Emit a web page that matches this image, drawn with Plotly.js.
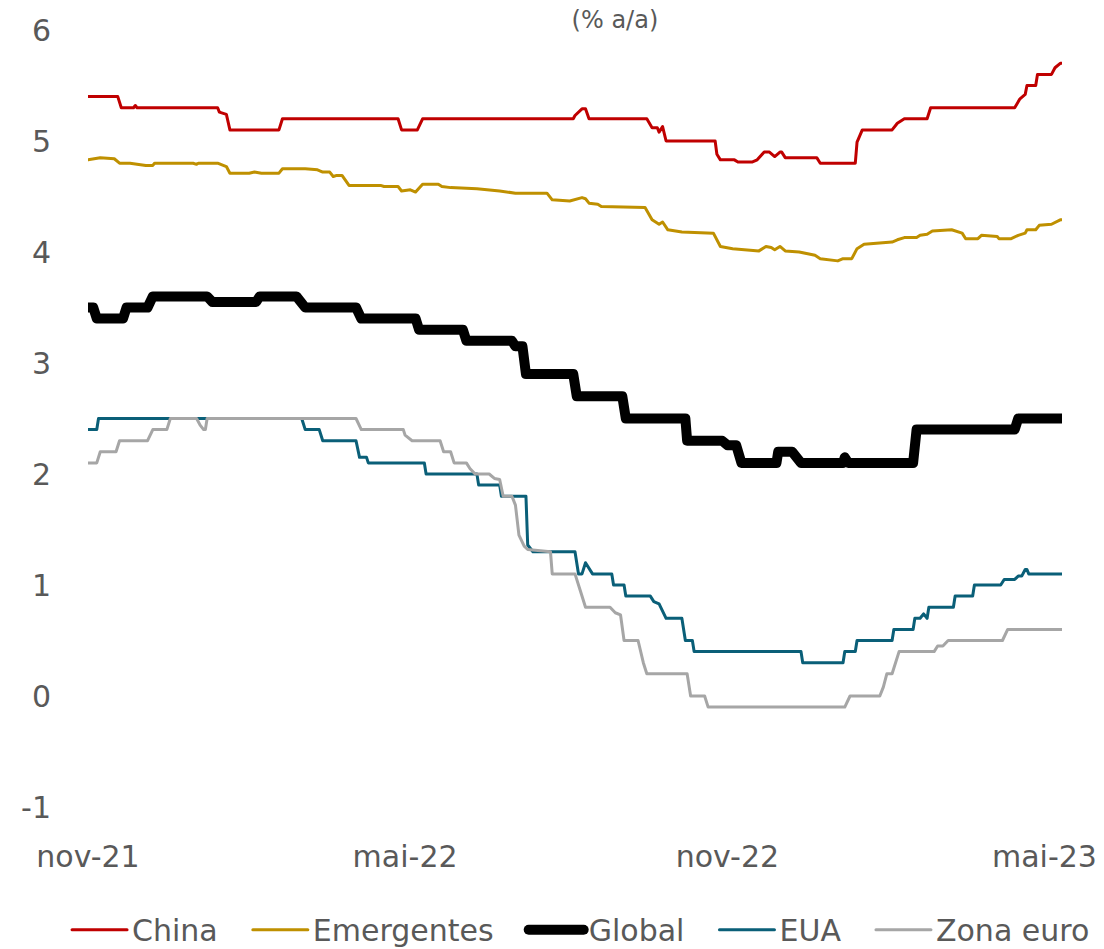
<!DOCTYPE html>
<html>
<head>
<meta charset="utf-8">
<script src="https://cdn.plot.ly/plotly-3.0.1.min.js"></script>
<style>
html,body{margin:0;padding:0;background:#fff;}
#chart{width:1104px;height:949px;}
#chart path.js-line{stroke-linejoin:round !important;stroke-linecap:round !important;}
</style>
</head>
<body>
<div id="chart"></div>
<script>
// Tick labels
const tickDates = ['2021-11-01', '2022-05-01', '2022-11-01', '2023-05-01'];
const tickLabels = ['nov-21', 'mai-22', 'nov-22', 'mai-23'];
const yTickVals = [-1, 0, 1, 2, 3, 4, 5, 6];
const yTickLabels = ['-1', '0', '1', '2', '3', '4', '5', '6'];

// China
const chinaDates = ['2021-11-01','2021-11-18','2021-11-20','2021-11-27','2021-11-28','2021-11-29','2022-01-14','2022-01-15','2022-01-19','2022-01-21',
  '2022-02-18','2022-02-20','2022-04-27','2022-04-29','2022-05-08','2022-05-11','2022-08-05','2022-08-06','2022-08-10','2022-08-12',
  '2022-08-14','2022-09-16','2022-09-19','2022-09-22','2022-09-23','2022-09-25','2022-09-27','2022-10-25','2022-10-26','2022-10-28',
  '2022-11-05','2022-11-07','2022-11-15','2022-11-18','2022-11-22','2022-11-25','2022-11-28','2022-12-01','2022-12-02','2022-12-04',
  '2022-12-22','2022-12-24','2023-01-13','2023-01-14','2023-01-17','2023-02-03','2023-02-06','2023-02-10','2023-02-23','2023-02-25',
  '2023-04-14','2023-04-17','2023-04-20','2023-04-21','2023-04-26','2023-04-27','2023-05-05','2023-05-07','2023-05-10','2023-05-11'];
const chinaVals = [5.4,5.4,5.3,5.3,5.32,5.3,5.3,5.26,5.24,5.1,
  5.1,5.2,5.2,5.1,5.1,5.2,5.2,5.23,5.29,5.29,
  5.2,5.2,5.12,5.12,5.08,5.13,5.0,5.0,4.88,4.83,
  4.83,4.81,4.81,4.83,4.9,4.9,4.86,4.9,4.9,4.85,
  4.85,4.8,4.8,4.99,5.1,5.1,5.16,5.2,5.2,5.3,
  5.3,5.38,5.42,5.5,5.5,5.6,5.6,5.66,5.7,5.7];

// Emergentes
const emDates = ['2021-11-01','2021-11-08','2021-11-16','2021-11-19','2021-11-25','2021-12-04','2021-12-08','2021-12-09','2021-12-31','2022-01-02',
  '2022-01-03','2022-01-14','2022-01-19','2022-01-21','2022-02-01','2022-02-04','2022-02-08','2022-02-18','2022-02-20','2022-03-05',
  '2022-03-12','2022-03-15','2022-03-19','2022-03-21','2022-03-23','2022-03-26','2022-03-30','2022-04-17','2022-04-19','2022-04-27',
  '2022-04-29','2022-05-04','2022-05-07','2022-05-09','2022-05-11','2022-05-20','2022-05-22','2022-05-27','2022-06-11','2022-06-24',
  '2022-07-03','2022-07-21','2022-07-24','2022-08-03','2022-08-06','2022-08-10','2022-08-12','2022-08-14','2022-08-19','2022-08-21',
  '2022-09-15','2022-09-17','2022-09-19','2022-09-23','2022-09-25','2022-09-28','2022-10-06','2022-10-24','2022-10-28','2022-11-04',
  '2022-11-19','2022-11-23','2022-11-26','2022-11-28','2022-12-01','2022-12-04','2022-12-12','2022-12-21','2022-12-24','2023-01-03',
  '2023-01-06','2023-01-11','2023-01-14','2023-01-18','2023-01-24','2023-02-03','2023-02-06','2023-02-10','2023-02-17','2023-02-19',
  '2023-02-23','2023-02-26','2023-03-09','2023-03-15','2023-03-17','2023-03-24','2023-03-26','2023-04-04','2023-04-05','2023-04-12',
  '2023-04-16','2023-04-20','2023-04-21','2023-04-26','2023-04-28','2023-05-05','2023-05-10','2023-05-11'];
const emVals = [4.83,4.85,4.84,4.8,4.8,4.78,4.78,4.8,4.8,4.79,
  4.8,4.8,4.77,4.71,4.71,4.72,4.71,4.71,4.75,4.75,
  4.74,4.72,4.72,4.68,4.69,4.69,4.6,4.6,4.59,4.59,
  4.55,4.56,4.54,4.58,4.61,4.61,4.59,4.58,4.57,4.55,
  4.53,4.53,4.47,4.46,4.47,4.49,4.48,4.44,4.43,4.41,
  4.4,4.34,4.29,4.25,4.27,4.2,4.18,4.17,4.05,4.03,
  4.01,4.05,4.04,4.02,4.05,4.01,4.0,3.97,3.94,3.92,
  3.94,3.94,4.03,4.07,4.08,4.09,4.11,4.13,4.13,4.15,
  4.16,4.19,4.2,4.17,4.12,4.12,4.15,4.14,4.12,4.12,
  4.15,4.17,4.2,4.2,4.24,4.25,4.29,4.29];

// Global
const globalDates = ['2021-11-01','2021-11-04','2021-11-06','2021-11-21','2021-11-23','2021-12-05','2021-12-08','2022-01-08','2022-01-11','2022-02-05',
  '2022-02-07','2022-02-28','2022-03-02','2022-03-05','2022-04-03','2022-04-06','2022-05-07','2022-05-09','2022-06-03','2022-06-05',
  '2022-07-01','2022-07-03','2022-07-07','2022-07-09','2022-08-05','2022-08-07','2022-09-02','2022-09-04','2022-10-08','2022-10-09',
  '2022-10-29','2022-11-01','2022-11-06','2022-11-09','2022-11-29','2022-11-30','2022-12-08','2022-12-10','2022-12-13','2023-01-06',
  '2023-01-07','2023-01-09','2023-02-15','2023-02-17','2023-04-14','2023-04-16','2023-05-11'];
const globalVals = [3.5,3.5,3.4,3.4,3.5,3.5,3.6,3.6,3.55,3.55,
  3.6,3.6,3.56,3.5,3.5,3.4,3.4,3.3,3.3,3.2,
  3.2,3.15,3.15,2.9,2.9,2.7,2.7,2.5,2.5,2.3,
  2.3,2.26,2.26,2.1,2.1,2.2,2.2,2.15,2.1,2.1,
  2.15,2.1,2.1,2.4,2.4,2.5,2.5];

// EUA
const euaDates = ['2021-11-01','2021-11-06','2021-11-07','2022-03-03','2022-03-05','2022-03-13','2022-03-15','2022-04-03','2022-04-05','2022-04-09',
  '2022-04-10','2022-05-12','2022-05-13','2022-06-11','2022-06-12','2022-06-24','2022-06-25','2022-07-09','2022-07-10','2022-07-13',
  '2022-08-06','2022-08-08','2022-08-10','2022-08-12','2022-08-16','2022-08-27','2022-08-28','2022-09-03','2022-09-04','2022-09-18',
  '2022-09-20','2022-09-23','2022-09-27','2022-10-06','2022-10-08','2022-10-12','2022-10-13','2022-12-13','2022-12-14','2023-01-06',
  '2023-01-07','2023-01-13','2023-01-14','2023-02-03','2023-02-04','2023-02-15','2023-02-16','2023-02-19','2023-02-21','2023-02-23',
  '2023-02-24','2023-03-10','2023-03-11','2023-03-21','2023-03-22','2023-04-06','2023-04-08','2023-04-14','2023-04-16','2023-04-18',
  '2023-04-20','2023-04-21','2023-04-22','2023-05-11'];
const euaVals = [2.4,2.4,2.5,2.5,2.4,2.4,2.3,2.3,2.15,2.15,
  2.1,2.1,2.0,2.0,1.9,1.9,1.8,1.8,1.36,1.3,
  1.3,1.1,1.1,1.2,1.1,1.1,1.0,1.0,0.9,0.9,
  0.85,0.83,0.7,0.7,0.5,0.5,0.4,0.4,0.3,0.3,
  0.4,0.4,0.5,0.5,0.6,0.6,0.7,0.7,0.74,0.7,
  0.8,0.8,0.9,0.9,1.0,1.0,1.05,1.05,1.08,1.08,
  1.14,1.14,1.1,1.1];

// Zona euro
const zeDates = ['2021-11-01','2021-11-06','2021-11-08','2021-11-17','2021-11-19','2021-12-05','2021-12-08','2021-12-16','2021-12-18','2022-01-02',
  '2022-01-04','2022-01-06','2022-01-07','2022-01-08','2022-04-03','2022-04-06','2022-04-30','2022-05-01','2022-05-05','2022-05-21',
  '2022-05-23','2022-05-27','2022-05-29','2022-06-05','2022-06-07','2022-06-10','2022-06-18','2022-06-21','2022-06-24','2022-06-26',
  '2022-07-01','2022-07-03','2022-07-05','2022-07-08','2022-07-10','2022-07-23','2022-07-24','2022-08-06','2022-08-09','2022-08-12',
  '2022-08-26','2022-08-29','2022-09-01','2022-09-03','2022-09-11','2022-09-14','2022-09-16','2022-10-09','2022-10-11','2022-10-19',
  '2022-10-21','2023-01-07','2023-01-10','2023-01-27','2023-01-29','2023-01-31','2023-02-03','2023-02-07','2023-02-27','2023-03-01',
  '2023-03-04','2023-03-07','2023-04-07','2023-04-10','2023-05-11'];
const zeVals = [2.1,2.1,2.2,2.2,2.3,2.3,2.4,2.4,2.5,2.5,
  2.44,2.4,2.4,2.5,2.5,2.4,2.4,2.35,2.3,2.3,
  2.2,2.2,2.1,2.1,2.05,2.0,2.0,1.96,1.95,1.8,
  1.8,1.72,1.45,1.35,1.32,1.3,1.1,1.1,0.95,0.8,
  0.8,0.75,0.73,0.5,0.5,0.3,0.2,0.2,0.0,0.0,
  -0.1,-0.1,0.0,0.0,0.08,0.2,0.2,0.4,0.4,0.45,
  0.45,0.5,0.5,0.6,0.6];

const seriesNames = ['China', 'Emergentes', 'Global', 'EUA', 'Zona euro'];
const FONT = 'DejaVu Sans';
const GREY = '#595959';
const PAD = '\u00A0\u00A0\u2009';

const traces = [
  {x: chinaDates, y: chinaVals, color: '#C00000', w: 3},
  {x: emDates, y: emVals, color: '#BF9000', w: 3},
  {x: globalDates, y: globalVals, color: '#000000', w: 10},
  {x: euaDates, y: euaVals, color: '#0A5F78', w: 3},
  {x: zeDates, y: zeVals, color: '#A6A6A6', w: 3}
].map((s, i) => ({
  type: 'scatter', mode: 'lines',
  name: seriesNames[i] + (i < seriesNames.length - 1 ? PAD : ''),
  x: s.x, y: s.y,
  line: {color: s.color, width: s.w, shape: 'linear'},
  hoverinfo: 'skip'
}));

const layout = {
  width: 1104, height: 949,
  margin: {l: 88, r: 42, t: 30, b: 142, autoexpand: false},
  paper_bgcolor: '#ffffff', plot_bgcolor: '#ffffff',
  font: {family: FONT, color: GREY, size: 30},
  title: {text: '(% a/a)', font: {family: FONT, size: 24, color: GREY},
    xref: 'container', x: 0.557, xanchor: 'center', yref: 'container', y: 0.979, yanchor: 'middle'},
  xaxis: {
    type: 'date', range: ['2021-11-01', '2023-05-11'],
    tickmode: 'array', tickvals: tickDates, ticktext: tickLabels,
    showgrid: false, zeroline: false, showline: false, ticks: '',
    ticklabelstandoff: 29,
    tickfont: {family: FONT, size: 30, color: GREY}
  },
  yaxis: {
    range: [-1, 6], tickmode: 'array', tickvals: yTickVals, ticktext: yTickLabels,
    showgrid: false, zeroline: false, showline: false, ticks: '',
    ticklabelstandoff: 36,
    tickfont: {family: FONT, size: 30, color: GREY}
  },
  showlegend: true,
  legend: {
    orientation: 'h', xref: 'paper', yref: 'paper',
    x: -0.0215, xanchor: 'left', y: -0.158, yanchor: 'middle',
    font: {family: FONT, size: 30, color: GREY},
    itemwidth: 55, tracegroupgap: 0, bgcolor: 'rgba(0,0,0,0)'
  }
};

Plotly.newPlot('chart', traces, layout, {displayModeBar: false, staticPlot: true});
</script>
</body>
</html>
